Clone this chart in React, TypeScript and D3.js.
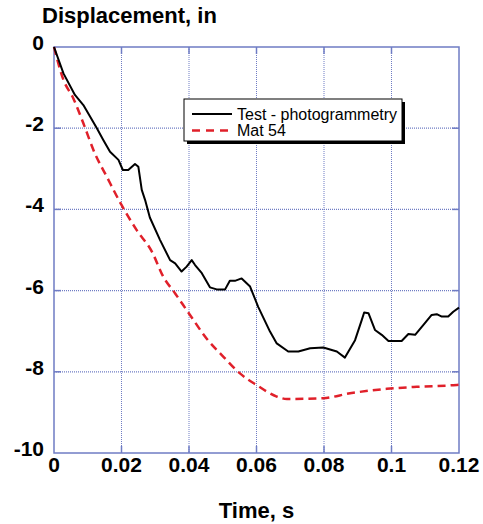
import React from "react";
import * as d3 from "d3";

const xTicks = [0, 0.02, 0.04, 0.06, 0.08, 0.1, 0.12];
const xTickLabels = ["0", "0.02", "0.04", "0.06", "0.08", "0.1", "0.12"];
const yTicks = [0, -2, -4, -6, -8, -10];
const yTickLabels = ["0", "-2", "-4", "-6", "-8", "-10"];

const testTime = [0, 0.0028, 0.0062, 0.0087, 0.0127, 0.0146, 0.0166, 0.0191, 0.0204, 0.022, 0.024, 0.025, 0.026, 0.027, 0.0284, 0.0314, 0.0344, 0.0359, 0.0378, 0.0393, 0.0408, 0.0418, 0.0438, 0.0462, 0.0482, 0.0507, 0.0521, 0.0536, 0.0556, 0.0581, 0.0605, 0.064, 0.066, 0.0694, 0.0724, 0.0759, 0.0798, 0.0838, 0.0862, 0.0892, 0.0912, 0.0919, 0.0932, 0.0951, 0.0971, 0.0991, 0.103, 0.105, 0.107, 0.1094, 0.1119, 0.1134, 0.1149, 0.1168, 0.1183, 0.12];
const testDisp = [0, -0.65, -1.18, -1.43, -2.0, -2.29, -2.58, -2.78, -3.03, -3.03, -2.88, -2.95, -3.52, -3.77, -4.2, -4.75, -5.25, -5.33, -5.53, -5.41, -5.25, -5.37, -5.57, -5.92, -5.97, -5.97, -5.76, -5.76, -5.7, -5.9, -6.4, -7.01, -7.3, -7.5, -7.5, -7.42, -7.4, -7.5, -7.65, -7.22, -6.72, -6.54, -6.56, -6.97, -7.09, -7.24, -7.24, -7.07, -7.09, -6.85, -6.6, -6.58, -6.64, -6.64, -6.52, -6.42];

const matTime = [0, 0.0028, 0.0057, 0.0087, 0.0121, 0.0156, 0.02, 0.0245, 0.029, 0.0324, 0.0359, 0.0403, 0.0452, 0.0502, 0.0551, 0.0601, 0.066, 0.069, 0.0798, 0.0877, 0.0986, 0.1075, 0.1183, 0.12];
const matDisp = [0, -0.81, -1.26, -1.88, -2.62, -3.19, -3.89, -4.51, -5.04, -5.66, -6.07, -6.6, -7.18, -7.63, -8.04, -8.33, -8.61, -8.67, -8.65, -8.53, -8.42, -8.37, -8.33, -8.32];

const seriesNames = ["Test - photogrammetry", "Mat 54"];

const W = 483, H = 524;
const left = 54, right = 459, top = 47, bottom = 453;
const blue = "#6f7cc4";
const font = "'Liberation Sans', Arial, Helvetica, sans-serif";

export default function App() {
  const x = d3.scaleLinear().domain([0, 0.12]).range([left, right]);
  const y = d3.scaleLinear().domain([-10, 0]).range([bottom, top]);
  const test = testTime.map((t, i) => [t, testDisp[i]] as [number, number]);
  const mat = matTime.map((t, i) => [t, matDisp[i]] as [number, number]);
  const line = d3.line<[number, number]>().x(d => x(d[0])).y(d => y(d[1]));
  const smooth = d3.line<[number, number]>().x(d => x(d[0])).y(d => y(d[1])).curve(d3.curveMonotoneX);

  const lx = 184, ly = 99, lw = 218, lh = 42;

  return (
    <svg width={W} height={H} style={{ position: "absolute", left: 0, top: 0, background: "#fff" }} fontFamily={font}>
      <rect x={0} y={0} width={W} height={H} fill="#fff" />
      {/* grid */}
      {xTicks.slice(1, -1).map((t, i) => (
        <line key={"gx" + i} x1={x(t)} x2={x(t)} y1={top} y2={bottom} stroke={blue} strokeWidth={1} strokeDasharray="1,1" />
      ))}
      {yTicks.slice(1, -1).map((t, i) => (
        <line key={"gy" + i} x1={left} x2={right} y1={y(t)} y2={y(t)} stroke={blue} strokeWidth={1.2} strokeDasharray="1,1" />
      ))}
      {/* tick marks */}
      {xTicks.slice(1, -1).map((t, i) => (
        <g key={"tx" + i} stroke={blue} strokeWidth={1.5}>
          <line x1={x(t)} x2={x(t)} y1={bottom} y2={bottom - 7} />
          <line x1={x(t)} x2={x(t)} y1={top} y2={top + 7} />
        </g>
      ))}
      {yTicks.slice(1, -1).map((t, i) => (
        <g key={"ty" + i} stroke={blue} strokeWidth={1.5}>
          <line x1={left} x2={left + 7} y1={y(t)} y2={y(t)} />
          <line x1={right} x2={right - 7} y1={y(t)} y2={y(t)} />
        </g>
      ))}
      {/* frame */}
      <rect x={left} y={top} width={right - left} height={bottom - top} fill="none" stroke={blue} strokeWidth={1.5} />
      {/* data */}
      <path d={smooth(mat) || ""} fill="none" stroke="#e0202a" strokeWidth={2.5} strokeDasharray="8,5" />
      <path d={line(test) || ""} fill="none" stroke="#000" strokeWidth={2} strokeLinejoin="round" />
      {/* legend */}
      <rect x={lx + 3} y={ly + 3} width={lw} height={lh} fill="#000" />
      <rect x={lx} y={ly} width={lw} height={lh} fill="#fff" stroke="#000" strokeWidth={1} />
      <line x1={192} x2={232} y1={114} y2={114} stroke="#000" strokeWidth={2} />
      <line x1={192} x2={232} y1={130.5} y2={130.5} stroke="#e0202a" strokeWidth={2.5} strokeDasharray="8,6" />
      <text x={237} y={119.5} fontSize={16} fill="#000">{seriesNames[0]}</text>
      <text x={237} y={136} fontSize={16} fill="#000">{seriesNames[1]}</text>
      {/* tick labels */}
      {xTicks.map((t, i) => (
        <text key={"xl" + i} x={x(t)} y={471.5} fontSize={21} fontWeight="bold" textAnchor="middle" fill="#000">{xTickLabels[i]}</text>
      ))}
      {yTicks.map((t, i) => (
        <text key={"yl" + i} x={44} y={y(t) + 3} fontSize={21} fontWeight="bold" textAnchor="end" fill="#000">{yTickLabels[i]}</text>
      ))}
      {/* titles */}
      <text x={42} y={23.3} fontSize={22} fontWeight="bold" fill="#000">Displacement, in</text>
      <text x={(left + right) / 2} y={517.7} fontSize={22} fontWeight="bold" textAnchor="middle" fill="#000">Time, s</text>
    </svg>
  );
}
